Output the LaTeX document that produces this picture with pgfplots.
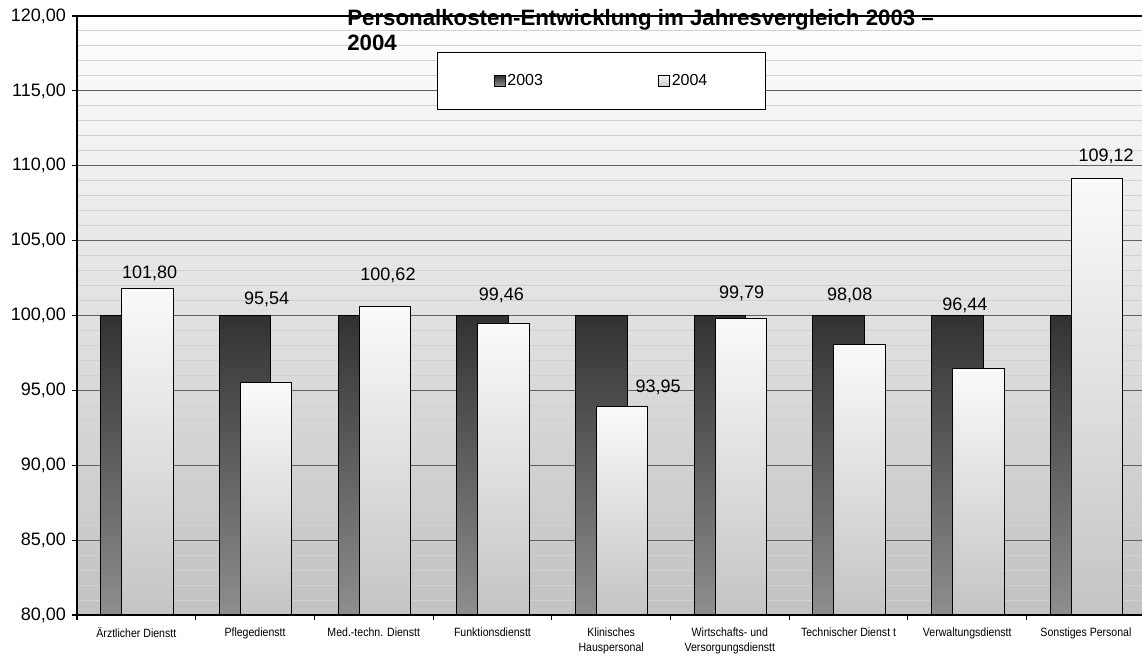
\documentclass[border=0pt]{standalone}
\usepackage{fontspec}
\setmainfont{Liberation Sans}
\newfontfamily\narrowfont[FakeStretch=0.88]{Liberation Sans}
\usepackage{pgfplots}
\pgfplotsset{compat=1.18}
\definecolor{bgbot}{HTML}{C2C2C2}
\definecolor{atop}{HTML}{323232}
\definecolor{abot}{HTML}{8E8E8E}
\definecolor{btop}{HTML}{FAFAFA}
\definecolor{bbot}{HTML}{C4C4C4}
\pgfplotsset{
  sqlegend/.style={legend image code/.code={\draw[##1,line width=0.6pt] (0pt,-3.9pt) rectangle (8pt,3.9pt);}},
  b03/.style={ybar, bar width=0.434, bar shift=-0.083, draw=black, line width=0.8pt, top color=atop, bottom color=abot, sqlegend},
  b04/.style={ybar, bar width=0.434, bar shift=0.093, draw=black, line width=0.8pt, top color=btop, bottom color=bbot, sqlegend},
}
\begin{document}
\begin{tikzpicture}
\begin{axis}[
  scale only axis, width=801.2pt, height=449.25pt,
  xmin=-0.5, xmax=8.5, ymin=80, ymax=120,
  y coord trafo/.code={\pgfmathparse{#1-80}},
  y coord inv trafo/.code={\pgfmathparse{#1+80}},
  axis lines=left, axis line style={-, black, line width=0.9pt},
  axis background/.style={top color=white, bottom color=bgbot},
  ytick={80,85,...,120},
  yticklabels={{80,00},{85,00},{90,00},{95,00},{100,00},{105,00},{110,00},{115,00},{120,00}},
  minor y tick num=4,
  ymajorgrids, yminorgrids,
  major grid style={draw=black!62, line width=0.8pt},
  minor grid style={draw=black!18, line width=0.8pt},
  xtick={-0.5,0.5,...,8.5}, xticklabels={},
  tick align=outside, major tick length=3.75pt, minor tick length=0pt,
  tick style={black, line width=0.8pt},
  yticklabel style={font=\fontsize{13.5}{16}\selectfont, xshift=-1pt},
  extra x ticks={0,1,2,3,4,5,6,7,8},
  extra x tick labels={Ärztlicher Dienstt, Pflegedienstt, Med.-techn. Dienstt, Funktionsdienstt, {Klinisches\\Hauspersonal}, {Wirtschafts- und\\Versorgungsdienstt}, Technischer Dienst t, Verwaltungsdienstt, Sonstiges Personal},
  extra x tick style={tick style={draw=none}},
  xticklabel style={align=center, font=\narrowfont\fontsize{9}{11.5}\selectfont, yshift=-2pt},
  legend style={at={(0.337,0.94)}, anchor=north west, draw=black, line width=0.8pt, fill=white,
    inner xsep=42.25pt, inner ysep=14.5pt, font=\fontsize{12}{14}\selectfont,
    legend columns=2, /tikz/every even column/.append style={column sep=85pt},
    nodes={inner xsep=1.5pt}},
]
\addplot[b03] coordinates {(0,100) (1,100) (2,100) (3,100) (4,100) (5,100) (6,100) (7,100) (8,100)};
\addlegendentry{2003}
\addplot[b04] coordinates {(0,101.80)};
\addlegendentry{2004}
\addplot[b04, forget plot] coordinates {(1,95.54)};
\addplot[b04, forget plot] coordinates {(2,100.62)};
\addplot[b04, forget plot] coordinates {(3,99.46)};
\addplot[b04, forget plot] coordinates {(4,93.95)};
\addplot[b04, forget plot] coordinates {(5,99.79)};
\addplot[b04, forget plot] coordinates {(6,98.08)};
\addplot[b04, forget plot] coordinates {(7,96.44)};
\addplot[b04, forget plot] coordinates {(8,109.12)};
\addplot[draw=none, mark=none, forget plot, nodes near coords, point meta=explicit symbolic,
  nodes near coords style={anchor=center, font=\fontsize{13.5}{16}\selectfont, text=black, inner sep=0pt}]
  table[meta=lab] {
x y lab
0.111 102.84 101,80
1.098 101.08 95,54
2.12 102.70 100,62
3.075 101.37 99,46
4.395 95.23 93,95
5.10 101.48 99,79
6.01 101.32 98,08
6.98 100.70 96,44
8.17 110.60 109,12
};
\draw[black, line width=0.9pt] (rel axis cs:0,1) -- (rel axis cs:1,1);
\end{axis}
\node[anchor=north west, inner sep=0pt, align=left, font=\bfseries\fontsize{16.7}{18.75}\selectfont]
  at ([shift={(202.5pt,5pt)}]current axis.north west) {Personalkosten-Entwicklung im Jahresvergleich 2003 –\\2004};
\pgfresetboundingbox
\path ([shift={(-57.75pt,-33pt)}]current axis.south west) rectangle ([shift={(-2.475pt,12pt)}]current axis.north east);
\end{tikzpicture}
\end{document}
